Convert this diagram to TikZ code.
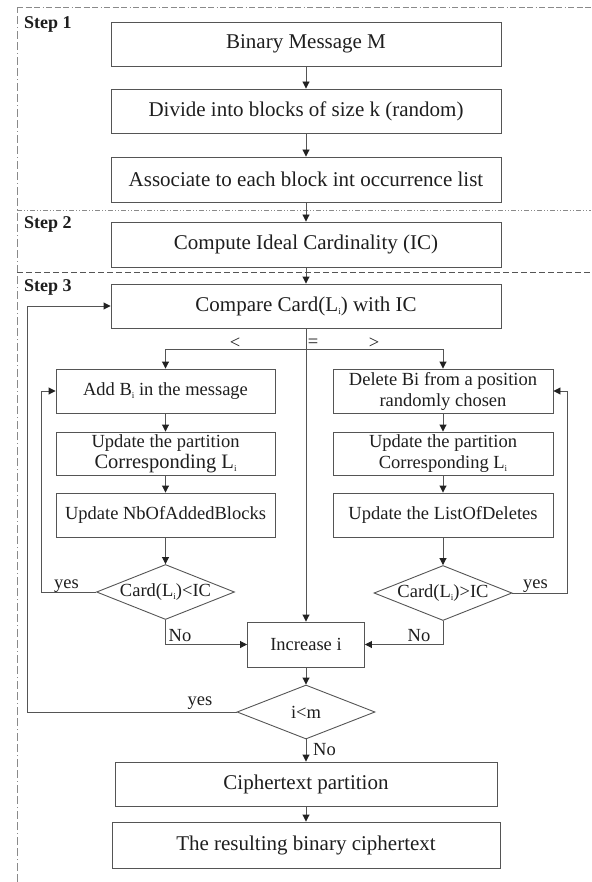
\documentclass[tikz,border=0pt]{standalone}
\usepackage{fontspec}
\setmainfont{Liberation Serif}
\usetikzlibrary{shapes.geometric,arrows.meta}
\definecolor{edgegray}{HTML}{555555}
\definecolor{framegray}{HTML}{8A8A8A}
\definecolor{inkgray}{HTML}{1E1E1E}
\definecolor{tipblack}{HTML}{222222}
% small lowered index, as in L_i and B_i
\newcommand{\idx}[1]{\raisebox{-0.35ex}{\fontsize{9}{9}\selectfont #1}}
\begin{document}
\begin{tikzpicture}[x=1pt,y=-1pt,
  box/.style={draw=edgegray,line width=0.9pt,rectangle,inner sep=0pt,align=center,text=inkgray},
  bigbox/.style={box,minimum width=390pt,minimum height=44pt,font=\fontsize{21}{24}\selectfont},
  smallbox/.style={box,minimum width=220pt,minimum height=44pt,font=\fontsize{18.5}{21}\selectfont},
  decision/.style={draw=edgegray,line width=0.9pt,diamond,aspect=2.5,inner sep=0pt,
    minimum width=138pt,minimum height=55pt,text=inkgray,font=\fontsize{18.5}{21}\selectfont},
  flow/.style={draw=edgegray,line width=0.9pt,
    -{Triangle[length=7pt,width=7pt,color=tipblack]}},
  tag/.style={text=inkgray,font=\fontsize{18.5}{21}\selectfont,inner sep=0pt},
  steplabel/.style={text=inkgray,font=\bfseries\fontsize{18}{21}\selectfont,inner sep=0pt,anchor=base west},
  sectionline/.style={draw=framegray,line width=0.9pt}
]
\useasboundingbox (0,0) rectangle (591,882);

% section frame and dividers
\draw[sectionline,dash pattern=on 8pt off 3pt on 8pt off 3pt on 1pt off 3pt] (17,882) -- (17,7);
\draw[sectionline,dash pattern=on 6pt off 2.5pt on 6pt off 2.5pt on 6pt off 2.5pt on 1pt off 2.5pt] (17,7) -- (591,7);
\draw[sectionline,dash pattern=on 5pt off 2pt on 1pt off 2pt on 1pt off 2pt] (17,210) -- (591,210);
\draw[sectionline,draw=edgegray,dash pattern=on 6pt off 3pt] (17,272) -- (591,272);

\node[steplabel] (s1) at (24,29) {Step 1};
\node[steplabel] (s2) at (24,229) {Step 2};
\node[steplabel] (s3) at (24,291) {Step 3};

% main column
\node[bigbox] (msg) at (306,44) {Binary Message M};
\node[bigbox] (divide) at (306,111) {Divide into blocks of size k (random)};
\node[bigbox,minimum height=45pt] (assoc) at (306,179.5) {Associate to each block int occurrence list};
\node[bigbox,minimum height=45pt] (ideal) at (306,244.5) {Compute Ideal Cardinality (IC)};
\node[bigbox] (compare) at (306,306) {Compare Card(L\idx{i}) with IC};

% "<" branch
\node[smallbox,minimum width=219pt] (add) at (165.5,391) {Add B\idx{i} in the message};
\node[smallbox,minimum width=219pt,minimum height=43pt] (updL) at (165.5,453.5)
  {Update the partition\\{\fontsize{20.5}{21}\selectfont Corresponding L\idx{i}}};
\node[smallbox,minimum width=219pt] (nbadd) at (165.5,515) {Update NbOfAddedBlocks};
\node[decision] (lt) at (165.5,592) {Card(L\idx{i})<IC};

% ">" branch
\node[smallbox] (del) at (443,391) {Delete Bi from a position\\randomly chosen};
\node[smallbox,minimum height=43pt] (updR) at (443,453.5) {Update the partition\\Corresponding L\idx{i}};
\node[smallbox] (dels) at (443,515) {Update the ListOfDeletes};
\node[decision] (gt) at (443,593) {Card(L\idx{i})>IC};

% loop control and output
\node[smallbox,minimum width=117pt,minimum height=45pt] (inc) at (306,644.5) {Increase i};
\node[decision,minimum height=54pt] (more) at (306,712) {i<m};
\node[bigbox,minimum width=382pt] (cipher) at (306,784) {Ciphertext partition};
\node[bigbox,minimum width=388pt,minimum height=46pt] (result) at (306,845) {The resulting binary ciphertext};

% connectors
\draw[flow] (msg) -- (divide);
\draw[flow] (divide) -- (assoc);
\draw[flow] (assoc) -- (ideal);
\draw[flow] (ideal) -- (compare);
\draw[flow] (compare.south) -- (inc.north);
\coordinate (fork) at (306,349);
\draw[flow] (fork) -| (add.north);
\draw[flow] (fork) -| (del.north);
\draw[flow] (add) -- (updL);
\draw[flow] (updL) -- (nbadd);
\draw[flow] (nbadd) -- (lt);
\draw[flow] (del) -- (updR);
\draw[flow] (updR) -- (dels);
\draw[flow] (dels) -- (gt);
\draw[flow] (lt.west) -- ++(-55,0) |- (add.west);
\draw[flow] (lt.south) |- (inc.west);
\draw[flow] (gt.east) -- ++(55,0) |- (del.east);
\draw[flow] (gt.south) |- (inc.east);
\draw[flow] (inc) -- (more);
\draw[flow] (more.west) -- ++(-209,0) |- (compare.west);
\draw[flow] (more) -- (cipher);
\draw[flow] (cipher) -- (result);

% branch labels
\node[tag] (lessT) at (235,343) {<};
\node[tag] (eqT) at (313,343) {=};
\node[tag] (grT) at (374,343) {>};
\node[tag,anchor=base] (yesL) at (66.5,588) {yes};
\node[tag,anchor=base] (noL) at (180,641) {No};
\node[tag,anchor=base] (yesR) at (535.5,588) {yes};
\node[tag,anchor=base] (noR) at (419,641) {No};
\node[tag,anchor=base] (yesM) at (200,705) {yes};
\node[tag,anchor=base] (noM) at (324.5,755) {No};
\end{tikzpicture}
\end{document}
